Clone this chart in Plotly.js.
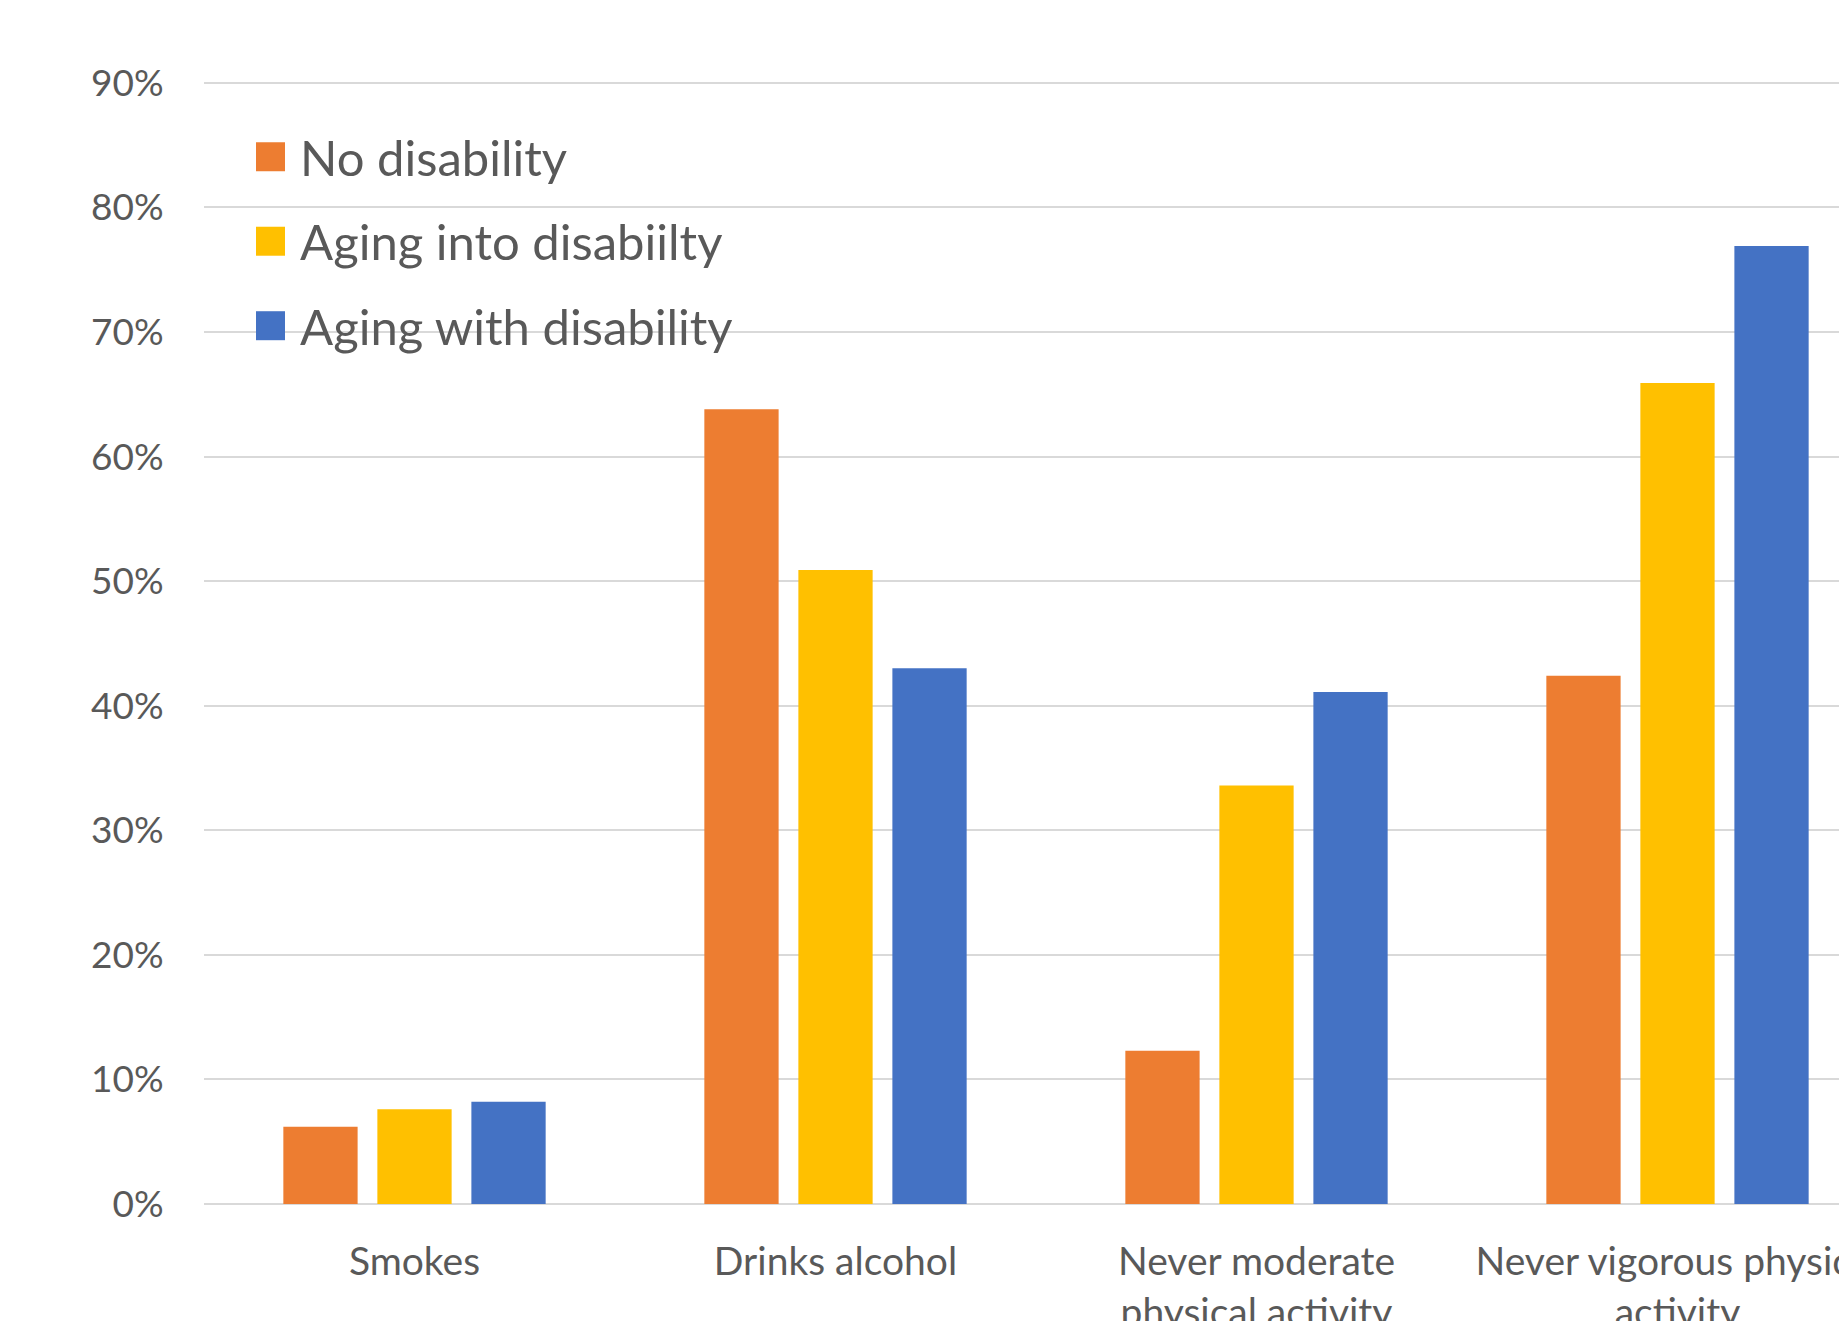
<!DOCTYPE html>
<html>
<head>
<meta charset="utf-8">
<script src="https://cdn.plot.ly/plotly-3.0.1.min.js"></script>
<style>
  html, body { margin: 0; padding: 0; overflow: hidden; background: #ffffff; }
  #chart { width: 1920px; height: 1400px; }
</style>
</head>
<body>
<div id="chart"></div>
<script>
// Health behaviours by disability group (percent of respondents)
const categories = [
  "Smokes",
  "Drinks alcohol",
  "Never moderate<br>physical activity",
  "Never vigorous physical<br>activity"
];
const seriesNames = ["No disability", "Aging into disabiilty", "Aging with disability"];
const noDisability      = [6.2, 63.8, 12.3, 42.4];
const agingIntoDisab    = [7.6, 50.9, 33.6, 65.9];
const agingWithDisab    = [8.2, 43.0, 41.1, 76.9];
const yTickValues = [0, 10, 20, 30, 40, 50, 60, 70, 80, 90];
const yTickLabels = yTickValues.map(v => v + "%");

const colors = ["#ED7D31", "#FFC000", "#4472C4"];
const textColor = "#595959";
const font = "Lato, 'Open Sans', sans-serif";

const seriesValues = [noDisability, agingIntoDisab, agingWithDisab];
const traces = seriesValues.map((vals, i) => ({
  type: "bar",
  name: seriesNames[i],
  x: categories,
  y: vals,
  marker: { color: colors[i], line: { width: 0 } },
  showlegend: false,
  hoverinfo: "x+y+name"
}));

// Figure geometry (pixels); y range runs a hair past 90 so the top gridline is kept
const W = 1920, H = 1400;
const yMax = 90.15;
const plotLeft = 204, plotRight = 1888, plotBottom = 1204.5;
const pxPerUnit = 12.46;
const plotTop = plotBottom - yMax * pxPerUnit;
const pw = plotRight - plotLeft, ph = plotBottom - plotTop;
const px = v => (v - plotLeft) / pw;
const py = v => (plotBottom - v) / ph;

// Custom legend: large square swatches with labels
const legendRows = [157, 241.5, 326];
const sw = 29, swLeft = 256, labelLeft = 298;
const shapes = seriesNames.map((n, i) => ({
  type: "rect", xref: "paper", yref: "paper",
  x0: px(swLeft), x1: px(swLeft + sw),
  y0: py(legendRows[i] + sw / 2), y1: py(legendRows[i] - sw / 2),
  fillcolor: colors[i], line: { width: 0 }, layer: "above"
}));
const annotations = seriesNames.map((n, i) => ({
  xref: "paper", yref: "paper",
  x: px(labelLeft), y: py(legendRows[i]),
  xanchor: "left", yanchor: "middle",
  text: n, showarrow: false,
  font: { family: font, size: 49, color: textColor }
}));

const layout = {
  width: W, height: H,
  margin: { l: plotLeft, r: W - plotRight, t: plotTop, b: H - plotBottom, pad: 0 },
  paper_bgcolor: "#ffffff",
  plot_bgcolor: "#ffffff",
  barmode: "group",
  bargap: 0.33,
  bargroupgap: 0.21,
  showlegend: false,
  font: { family: font, color: textColor },
  xaxis: {
    type: "category",
    range: [-0.5, 3.5],
    showgrid: false,
    showline: false,
    zeroline: false,
    ticks: "outside", ticklen: 23, tickcolor: "rgba(0,0,0,0)",
    tickfont: { family: font, size: 39, color: textColor }
  },
  yaxis: {
    range: [0, yMax],
    tickmode: "array",
    tickvals: yTickValues,
    ticktext: yTickLabels,
    showgrid: true, gridcolor: "#d9d9d9", gridwidth: 2,
    zeroline: true, zerolinecolor: "#d9d9d9", zerolinewidth: 2,
    showline: false,
    ticks: "outside", ticklen: 32, tickcolor: "rgba(0,0,0,0)",
    tickfont: { family: font, size: 37, color: textColor }
  },
  shapes: shapes,
  annotations: annotations
};

Plotly.newPlot("chart", traces, layout, { displayModeBar: false, staticPlot: true });
</script>
</body>
</html>
